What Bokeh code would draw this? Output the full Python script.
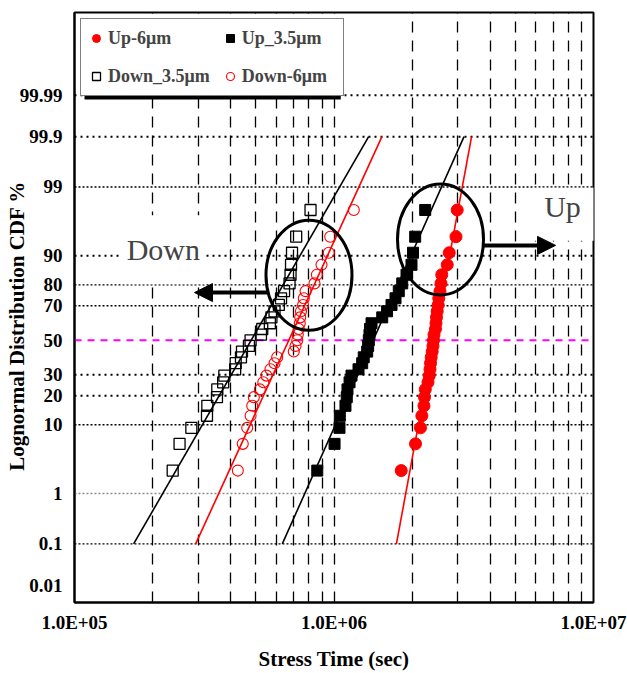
from statistics import NormalDist
from bokeh.plotting import figure
from bokeh.models import (Range1d, FixedTicker, Span, Label, Arrow, NormalHead,
                          Legend, LegendItem, BoxAnnotation)
from bokeh.embed import file_html
from bokeh.resources import INLINE

# ---------------- data ----------------
# cumulative failure percentage of each ranked sample (29 samples per group)
cdf_pct = [2.4, 5.8, 9.2, 12.6, 16.0, 19.4, 22.8, 26.2, 29.6, 33.0, 36.4, 39.8,
           43.2, 46.6, 50.0, 53.4, 56.8, 60.2, 63.6, 67.0, 70.4, 73.8, 77.2,
           80.6, 84.0, 87.4, 90.8, 94.2, 97.6]

# stress time (sec) of each ranked sample
down35_t = [2.39e5, 2.54e5, 2.82e5, 3.24e5, 3.25e5, 3.54e5, 3.55e5, 3.74e5,
            3.78e5, 4.16e5, 4.18e5, 4.38e5, 4.42e5, 4.70e5, 4.77e5, 5.23e5,
            5.29e5, 5.66e5, 5.74e5, 5.90e5, 6.13e5, 6.25e5, 6.42e5, 6.74e5,
            6.80e5, 6.83e5, 6.89e5, 7.15e5, 8.12e5]
down6_t = [4.26e5, 4.45e5, 4.63e5, 4.77e5, 4.84e5, 4.91e5, 5.18e5, 5.34e5,
           5.49e5, 5.69e5, 5.90e5, 6.04e5, 7.00e5, 7.11e5, 7.22e5, 7.25e5,
           7.32e5, 7.38e5, 7.41e5, 7.46e5, 7.60e5, 7.65e5, 7.77e5, 8.41e5,
           8.59e5, 8.95e5, 9.55e5, 9.67e5, 1.192e6]
up35_t = [8.62e5, 1.005e6, 1.050e6, 1.053e6, 1.107e6, 1.120e6, 1.127e6,
          1.148e6, 1.168e6, 1.243e6, 1.284e6, 1.302e6, 1.342e6, 1.354e6,
          1.362e6, 1.370e6, 1.376e6, 1.395e6, 1.534e6, 1.601e6, 1.666e6,
          1.726e6, 1.777e6, 1.832e6, 1.903e6, 1.989e6, 2.016e6, 2.055e6,
          2.246e6]
up6_t = [1.816e6, 2.061e6, 2.154e6, 2.180e6, 2.222e6, 2.232e6, 2.248e6,
         2.303e6, 2.329e6, 2.344e6, 2.355e6, 2.369e6, 2.390e6, 2.407e6,
         2.418e6, 2.429e6, 2.461e6, 2.472e6, 2.483e6, 2.498e6, 2.520e6,
         2.534e6, 2.561e6, 2.584e6, 2.602e6, 2.731e6, 2.780e6, 2.952e6,
         2.984e6]

# lognormal fit lines: stress time at 0.1 % and 99.9 %
fit_pct = [0.1, 99.9]
fit_down35 = [1.69e5, 1.36e6]
fit_down6 = [2.93e5, 1.53e6]
fit_up35 = [6.32e5, 3.17e6]
fit_up6 = [1.74e6, 3.39e6]

ytick_pct = [0.01, 0.1, 1, 10, 20, 30, 50, 70, 80, 90, 99, 99.9, 99.99]
ytick_labels = ["0.01", "0.1", "1", "10", "20", "30", "50", "70", "80", "90",
                "99", "99.9", "99.99"]
xtick_vals = [1e5, 1e6, 1e7]
xtick_labels = ["1.0E+05", "1.0E+06", "1.0E+07"]
xgrid_vals = [2e5, 3e5, 4e5, 5e5, 6e5, 7e5, 8e5, 9e5, 1e6,
              2e6, 3e6, 4e6, 5e6, 6e6, 7e6, 8e6, 9e6]

# ---------------- probability (probit) scale ----------------
_nd = NormalDist()


def probit(pcts):
    return [_nd.inv_cdf(v / 100.0) for v in pcts]


FONT = "Liberation Serif"

p = figure(width=627, height=673, x_axis_type="log",
           x_range=Range1d(1e5, 1e7), y_range=Range1d(-3.979, 4.974),
           output_backend="svg", toolbar_location=None,
           min_border_left=74, min_border_right=34,
           min_border_top=12, min_border_bottom=67)
p.background_fill_color = "white"
p.outline_line_color = "black"
p.outline_line_width = 2

# axes
ytick_z = probit(ytick_pct)
p.yaxis.ticker = FixedTicker(ticks=ytick_z)
p.yaxis.major_label_overrides = {z: s for z, s in zip(ytick_z, ytick_labels)}
p.xaxis.ticker = FixedTicker(ticks=xtick_vals)
p.xaxis.major_label_overrides = {v: s for v, s in zip(xtick_vals, xtick_labels)}
for ax in (p.xaxis[0], p.yaxis[0]):
    ax.axis_line_width = 2
    ax.major_tick_out = 0
    ax.major_tick_in = 0
    ax.minor_tick_out = 0
    ax.minor_tick_in = 0
    ax.major_label_text_font = FONT
    ax.major_label_text_font_style = "bold"
    ax.major_label_text_font_size = "19px"
    ax.major_label_text_color = "black"
    ax.axis_label_text_font = FONT
    ax.axis_label_text_font_style = "bold"
    ax.axis_label_text_font_size = "21px"
    ax.axis_label_text_color = "black"
p.yaxis.major_label_standoff = 12
p.xaxis.major_label_standoff = 9
p.xaxis.axis_label = "Stress Time (sec)"
p.xaxis.axis_label_standoff = 11
p.yaxis.axis_label = "Lognormal Distribution CDF %" + "\u00a0" * 7
p.yaxis.axis_label_standoff = -12

# grids
p.ygrid.visible = False
p.xgrid.ticker = FixedTicker(ticks=xgrid_vals)
p.xgrid.grid_line_color = "black"
p.xgrid.grid_line_dash = "11 8"
p.xgrid.grid_line_width = 1.3

thick = [99.99, 99.9, 90, 30, 20]
for pc in ytick_pct:
    if pc == 0.01:
        continue
    z = _nd.inv_cdf(pc / 100.0)
    if pc == 50:
        s = Span(location=z, dimension="width", line_color="#FF00FF",
                 line_dash="7 6", line_width=2, level="underlay")
    elif pc == 1:
        s = Span(location=z, dimension="width", line_color="#8c8c8c",
                 line_dash="2 2", line_width=1.5, level="underlay")
    elif pc in thick:
        s = Span(location=z, dimension="width", line_color="black",
                 line_dash="2 4", line_width=2, level="underlay")
    else:
        s = Span(location=z, dimension="width", line_color="black",
                 line_dash="2 2", line_width=1.3, level="underlay")
    p.add_layout(s)

# data points
yz = probit(cdf_pct)
r_down35 = p.scatter(down35_t, yz, marker="square", size=11,
                     fill_color=None, line_color="black", line_width=1.3)
r_down6 = p.scatter(down6_t, yz, marker="circle", size=11,
                    fill_color=None, line_color="red", line_width=1.1)
r_up35 = p.scatter(up35_t, yz, marker="square", size=11,
                   fill_color="black", line_color="black")
r_up6 = p.scatter(up6_t, yz, marker="circle", size=12,
                  fill_color="red", line_color="red")

# fit lines
fz = probit(fit_pct)
p.line(fit_down35, fz, line_color="black", line_width=1.6)
p.line(fit_down6, fz, line_color="red", line_width=1.6)
p.line(fit_up35, fz, line_color="black", line_width=1.6)
p.line(fit_up6, fz, line_color="red", line_width=1.6)

# annotation ellipses
p.ellipse(x=[8.01e5], y=[0.988], width=86, height=110,
          width_units="screen", height_units="screen",
          fill_color=None, line_color="black", line_width=3)
p.ellipse(x=[2.573e6], y=[1.531], width=86, height=111,
          width_units="screen", height_units="screen",
          fill_color=None, line_color="black", line_width=3)

# text labels (drawn before the arrows so the arrows stay on top)
p.add_layout(Label(x=2.2e5, y=1.372, text="Down", text_font=FONT,
                   text_font_size="30px", text_align="center",
                   text_baseline="middle", background_fill_color="white",
                   padding=(6, 18)))
p.add_layout(Label(x=7.8e6, y=1.914, text="Up", text_font=FONT,
                   text_font_size="30px", text_align="center",
                   text_baseline="middle", background_fill_color="white",
                   padding=(12, 18, 2, 18)))

# arrows
p.add_layout(Arrow(end=NormalHead(size=18, fill_color="black", line_color="black"),
                   x_start=5.54e5, y_start=0.724, x_end=2.90e5, y_end=0.724,
                   line_width=4, line_color="black"))
p.add_layout(Arrow(end=NormalHead(size=18, fill_color="black", line_color="black"),
                   x_start=3.77e6, y_start=1.44, x_end=7.14e6, y_end=1.44,
                   line_width=4, line_color="black"))

# drop shadow behind the legend box
p.add_layout(BoxAnnotation(left=1.093e5, right=1.062e6, top=4.854, bottom=3.655,
                           fill_color="black", fill_alpha=1.0,
                           line_color=None, level="annotation"))

# legend
legend = Legend(items=[LegendItem(label="Up-6μm", renderers=[r_up6]),
                       LegendItem(label="Up_3.5μm", renderers=[r_up35]),
                       LegendItem(label="Down_3.5μm", renderers=[r_down35]),
                       LegendItem(label="Down-6μm", renderers=[r_down6])],
                location="top_left", orientation="horizontal", ncols=2,
                margin=6, padding=5, spacing=10,
                glyph_width=20, glyph_height=28, label_standoff=2,
                label_width=96,
                label_text_font=FONT, label_text_font_style="bold",
                label_text_font_size="18px",
                border_line_color="black", border_line_width=1.5,
                background_fill_color="white", background_fill_alpha=1.0)
p.add_layout(legend)

open("out.html", "w").write(file_html(p, INLINE))
